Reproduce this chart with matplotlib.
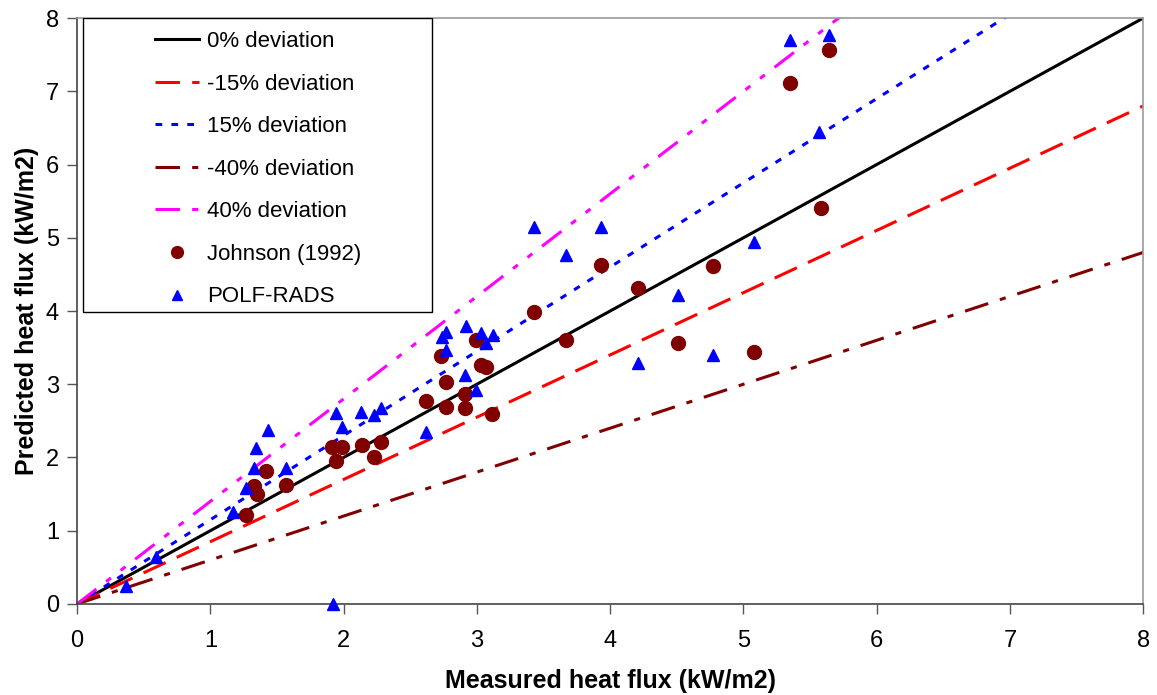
import numpy as np
import matplotlib.pyplot as plt
from matplotlib.patches import Rectangle

plt.rcParams['font.family'] = ['Liberation Sans', 'DejaVu Sans']

# Johnson (1992): measured vs predicted heat flux (kW/m2)
johnson_x = [1.27, 1.33, 1.35, 1.42, 1.57, 1.91, 1.94, 1.99, 2.14, 2.23, 2.28,
             2.62, 2.73, 2.77, 2.77, 2.91, 2.91, 2.99, 3.03, 3.07, 3.11, 3.43,
             3.67, 3.93, 4.21, 4.51, 4.77, 5.08, 5.35, 5.58, 5.64]
johnson_y = [1.21, 1.61, 1.50, 1.82, 1.62, 2.14, 1.95, 2.14, 2.17, 2.01, 2.21,
             2.77, 3.39, 3.03, 2.69, 2.87, 2.68, 3.61, 3.26, 3.24, 2.59, 3.98,
             3.60, 4.63, 4.31, 3.56, 4.61, 3.44, 7.12, 5.41, 7.57]

# POLF-RADS
polf_x = [0.37, 0.59, 1.17, 1.27, 1.33, 1.34, 1.43, 1.57, 1.92, 1.94, 1.99,
          2.13, 2.23, 2.28, 2.62, 2.74, 2.77, 2.77, 2.91, 2.92, 2.99, 3.03,
          3.07, 3.12, 3.43, 3.67, 3.93, 4.21, 4.51, 4.77, 5.08, 5.35, 5.57, 5.64]
polf_y = [0.25, 0.64, 1.26, 1.58, 1.86, 2.13, 2.38, 1.86, 0.00, 2.61, 2.42,
          2.62, 2.58, 2.68, 2.35, 3.64, 3.71, 3.47, 3.13, 3.80, 2.92, 3.70,
          3.56, 3.67, 5.15, 4.76, 5.15, 3.29, 4.22, 3.40, 4.94, 7.70, 6.44, 7.77]

# deviation reference lines
deviations = [0, -15, 15, -40, 40]
dev_labels = ['0% deviation', '-15% deviation', '15% deviation',
              '-40% deviation', '40% deviation']
dev_colors = ['black', '#ff0000', '#0000ff', '#800000', '#ff00ff']
dev_dashes = [None, (8, 4), (2.2, 3), (8, 4, 2, 4), (8, 4, 2, 4, 2, 4)]

fig = plt.figure(figsize=(11.57, 6.95), dpi=100)
ax = fig.add_axes([0.0666, 0.131, 0.9215, 0.843])

x_line = np.array([0, 8])
handles = []
for d, lab, c, ds in zip(deviations, dev_labels, dev_colors, dev_dashes):
    h, = ax.plot(x_line, x_line * (1 + d / 100), color=c, lw=2.2, label=lab)
    if ds is not None:
        h.set_dashes(ds)
    handles.append(h)

h1, = ax.plot(johnson_x, johnson_y, 'o', color='#800000', ms=10, mec='#800000',
              label='Johnson (1992)', clip_on=False, zorder=5)
h2, = ax.plot(polf_x, polf_y, '^', color='#0000ff', ms=9.2, mec='#0000ff',
              label='POLF-RADS', clip_on=False, zorder=5)
handles += [h1, h2]

ax.set_xlim(0, 8)
ax.set_ylim(0, 8)
ax.set_xticks(range(9))
ax.set_yticks(range(9))
ax.tick_params(axis='both', labelsize=17, length=7, width=1, color='#555555')
ax.tick_params(axis='x', pad=12)
ax.tick_params(axis='y', pad=6)
for s in ['left', 'bottom']:
    ax.spines[s].set_color('#444444')
    ax.spines[s].set_linewidth(1.2)
for s in ['top', 'right']:
    ax.spines[s].set_color('#999999')
    ax.spines[s].set_linewidth(1.2)

ax.set_xlabel('Measured heat flux (kW/m2)', fontsize=18, fontweight='bold', labelpad=12)
ax.set_ylabel('Predicted heat flux (kW/m2)', fontsize=18, fontweight='bold', labelpad=5)

# legend box (Excel style, wide left margin)
ax.add_patch(Rectangle((0.0056, 0.498), 0.327, 0.502, transform=ax.transAxes,
                       facecolor='white', edgecolor='black', lw=1, zorder=6))
leg = ax.legend(handles=handles, loc='upper left', bbox_to_anchor=(0.073, 0.978),
                frameon=False, fontsize=16, handlelength=2.0, handletextpad=0.36,
                labelspacing=0.97, borderpad=0, borderaxespad=0, markerscale=0.85)
leg.set_zorder(7)

fig.savefig('out.png', dpi=100)
